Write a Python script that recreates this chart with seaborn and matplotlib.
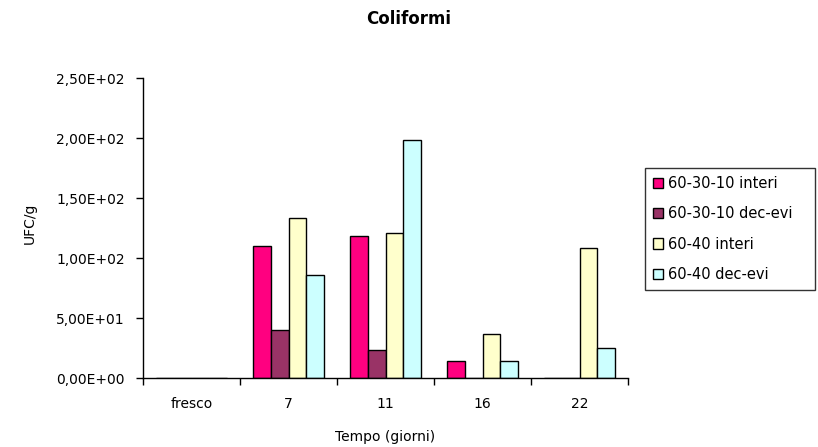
import matplotlib
matplotlib.use("Agg")
import matplotlib.pyplot as plt
from matplotlib.ticker import FixedLocator, FuncFormatter
from matplotlib.patches import Patch
import seaborn as sns
import pandas as pd

# Sampling times (days) and colony counts per treatment
tempi = ["fresco", "7", "11", "16", "22"]
serie = ["60-30-10 interi", "60-30-10 dec-evi", "60-40 interi", "60-40 dec-evi"]
interi_60_30_10 = [0, 110, 118, 14, 0]
decevi_60_30_10 = [0, 40, 23, 0, 0]
interi_60_40 = [0, 133, 121, 37, 108]
decevi_60_40 = [0, 86, 198, 14, 25]
colori = ["#FF0080", "#993366", "#FFFFCC", "#CCFFFF"]
yticks = [0, 50, 100, 150, 200, 250]

valori = [interi_60_30_10, decevi_60_30_10, interi_60_40, decevi_60_40]
df = pd.DataFrame(
    [(t, s, v) for s, vals in zip(serie, valori) for t, v in zip(tempi, vals)],
    columns=["Tempo", "Serie", "UFC"],
)

sns.set_theme(style="white")
plt.rcParams["font.family"] = ["DejaVu Sans"]
plt.rcParams["font.size"] = 10
plt.rcParams["text.color"] = "black"
plt.rcParams["xtick.color"] = "black"
plt.rcParams["ytick.color"] = "black"
plt.rcParams["axes.labelcolor"] = "black"

fig = plt.figure(figsize=(8.18, 4.47), dpi=100)
W, H = 818, 447
ax = fig.add_axes([143 / W, 1 - 378 / H, (628 - 143) / W, (378 - 78) / H])

sns.barplot(
    data=df, x="Tempo", y="UFC", hue="Serie", order=tempi, hue_order=serie,
    palette=colori, width=0.73, edgecolor="black", linewidth=1.0,
    saturation=1, legend=False, ax=ax,
)

ax.set_xlim(-0.5, len(tempi) - 0.5)
ax.set_ylim(0, 250)
ax.set_xlabel("")
ax.set_ylabel("")

for side in ["top", "right"]:
    ax.spines[side].set_visible(False)
for side in ["left", "bottom"]:
    ax.spines[side].set_color("black")
    ax.spines[side].set_linewidth(1.0)
    ax.spines[side].set_zorder(5)

def fmt_sci(v, pos):
    return f"{v:.2E}".replace(".", ",")

ax.yaxis.set_major_locator(FixedLocator(yticks))
ax.yaxis.set_major_formatter(FuncFormatter(fmt_sci))
ax.tick_params(axis="y", which="major", direction="out", length=5, width=1,
               color="black", labelsize=10, pad=8, left=True)

ax.set_xticks(range(len(tempi)))
ax.set_xticklabels(tempi)
ax.set_xticks([i + 0.5 for i in range(-1, len(tempi))], minor=True)
ax.tick_params(axis="x", which="major", length=0, labelsize=10, pad=14)
ax.tick_params(axis="x", which="minor", direction="out", length=5, width=1,
               color="black", bottom=True)

fig.text(0.5, 1 - 19 / H, "Coliformi", ha="center", va="center",
         fontsize=12, fontweight="bold")
fig.text(385.5 / W, 1 - 437 / H, "Tempo (giorni)", ha="center", va="center",
         fontsize=10)
fig.text(30 / W, 1 - 223 / H, "UFC/g", ha="center", va="center",
         rotation=90, fontsize=10)

handles = [Patch(facecolor=c, edgecolor="black", linewidth=1.0) for c in colori]
leg = fig.legend(
    handles, serie, loc="upper left",
    bbox_to_anchor=(645 / W, 1 - 287 / H, (815 - 645) / W, (287 - 168) / H),
    mode="expand", frameon=True, fancybox=False, fontsize=10.5,
    handlelength=0.7, handleheight=0.7, handletextpad=0.3, labelspacing=1.05,
    borderpad=0.55, borderaxespad=0,
)
leg.get_frame().set_edgecolor("black")
leg.get_frame().set_linewidth(1.0)

fig.savefig("out.png", dpi=100, facecolor="white")
